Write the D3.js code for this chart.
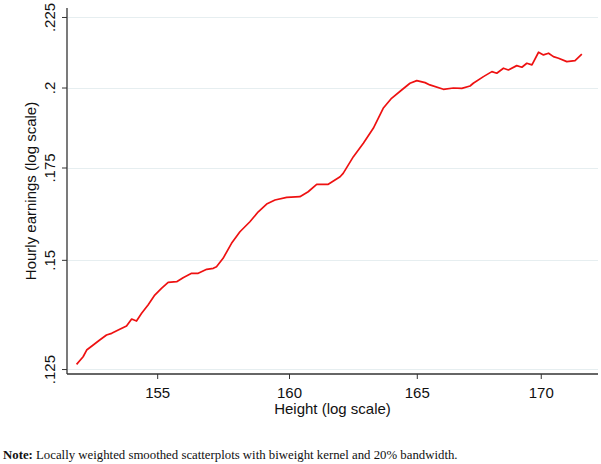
<!DOCTYPE html>
<html>
<head>
<meta charset="utf-8">
<script src="https://cdn.jsdelivr.net/npm/d3@7"></script>
<style>
    body { margin: 0; background: #fff; }
    svg { display: block; }
</style>
</head>
<body>
<div id="chart"></div>
<script>
// height (cm) and hourly earnings
var height = [152.02, 152.26, 152.39, 152.63, 152.87, 153.12, 153.31, 153.61, 153.86, 154.05,
    154.23, 154.42, 154.66, 154.91, 155.16, 155.41, 155.73, 155.97, 156.29, 156.54,
    156.86, 157.11, 157.23, 157.48, 157.80, 158.12, 158.50, 158.82, 159.14, 159.46,
    159.91, 160.42, 160.74, 161.07, 161.52, 161.98, 162.10, 162.50, 162.89, 163.28,
    163.67, 164.00, 164.40, 164.73, 165.00, 165.33, 165.52, 166.06, 166.46, 166.80,
    167.13, 167.26, 167.67, 168.01, 168.21, 168.48, 168.68, 169.02, 169.23, 169.43,
    169.64, 169.91, 170.11, 170.32, 170.52, 170.73, 171.07, 171.41, 171.69];
var earnings = [0.12598, 0.12759, 0.12903, 0.13011, 0.13120, 0.13230, 0.13268, 0.13357, 0.13431, 0.13589,
    0.13543, 0.13719, 0.13910, 0.14144, 0.14304, 0.14448, 0.14462, 0.14559, 0.14666, 0.14666,
    0.14764, 0.14789, 0.14829, 0.15038, 0.15419, 0.15720, 0.15985, 0.16254, 0.16465, 0.16575,
    0.16650, 0.16667, 0.16806, 0.17016, 0.17016, 0.17233, 0.17331, 0.17820, 0.18222, 0.18684,
    0.19318, 0.19644, 0.19918, 0.20143, 0.20231, 0.20164, 0.20087, 0.19941, 0.19984, 0.19974,
    0.20051, 0.20143, 0.20367, 0.20538, 0.20483, 0.20655, 0.20596, 0.20745, 0.20689, 0.20828,
    0.20769, 0.21214, 0.21119, 0.21179, 0.21059, 0.21003, 0.20884, 0.20918, 0.21144];

var xTicks = [155, 160, 165, 170];
var yTicks = [0.125, 0.15, 0.175, 0.2, 0.225];
var yTickLabels = [".125", ".15", ".175", ".2", ".225"];

var W = 601, H = 464;
var plotLeft = 67, plotRight = 598, plotTop = 8, plotBottom = 374;

var svg = d3.select("#chart").append("svg")
    .attr("width", W)
    .attr("height", H);

var x = d3.scaleLog()
    .domain([151.67, 172.36])
    .range([plotLeft, plotRight]);

var y = d3.scaleLog()
    .domain([0.12397, 0.2284])
    .range([plotBottom, plotTop]);

// gridlines
svg.append("g")
    .selectAll("line")
    .data(yTicks)
    .enter().append("line")
    .attr("x1", plotLeft + 1)
    .attr("x2", plotRight)
    .attr("y1", function (d) { return Math.round(y(d)) + 0.5; })
    .attr("y2", function (d) { return Math.round(y(d)) + 0.5; })
    .attr("stroke", "#e6eef0")
    .attr("stroke-width", 1.2);

var font = "'Liberation Sans', Arial, sans-serif";

// y axis
var yAxis = svg.append("g")
    .attr("transform", "translate(" + plotLeft + ",0)")
    .call(d3.axisLeft(y).tickValues(yTicks).tickSize(5).tickSizeOuter(0)
        .tickFormat(function (d, i) { return yTickLabels[i]; }));
yAxis.select(".domain").attr("stroke", "#333").attr("stroke-width", 1.3)
    .attr("d", "M0," + plotTop + "V" + plotBottom);
yAxis.selectAll(".tick line").attr("stroke", "#333");
yAxis.selectAll(".tick text")
    .attr("x", 0).attr("dy", 0)
    .attr("transform", "translate(-12,0) rotate(-90)")
    .attr("text-anchor", "middle")
    .style("font-family", font)
    .style("font-size", "15px")
    .attr("fill", "#111");

// x axis
var xAxis = svg.append("g")
    .attr("transform", "translate(0," + plotBottom + ")")
    .call(d3.axisBottom(x).tickValues(xTicks).tickSize(5).tickSizeOuter(0)
        .tickFormat(d3.format("d")));
xAxis.select(".domain").attr("stroke", "#333").attr("stroke-width", 1.3)
    .attr("d", "M" + plotLeft + ",0H" + plotRight);
xAxis.selectAll(".tick line").attr("stroke", "#333");
xAxis.selectAll(".tick text")
    .attr("y", 24).attr("dy", 0)
    .style("font-family", font)
    .style("font-size", "15px")
    .attr("fill", "#111");

// axis titles
svg.append("text")
    .attr("transform", "translate(36," + ((plotTop + plotBottom) / 2) + ") rotate(-90)")
    .attr("text-anchor", "middle")
    .style("font-family", font)
    .style("font-size", "15px")
    .attr("fill", "#111")
    .text("Hourly earnings (log scale)");

svg.append("text")
    .attr("x", (plotLeft + plotRight) / 2)
    .attr("y", 414)
    .attr("text-anchor", "middle")
    .style("font-family", font)
    .style("font-size", "15px")
    .attr("fill", "#111")
    .text("Height (log scale)");

// the curve
var pts = height.map(function (h, i) { return [h, earnings[i]]; });
var line = d3.line()
    .x(function (d) { return x(d[0]); })
    .y(function (d) { return y(d[1]); })
    .curve(d3.curveLinear);

svg.append("path")
    .datum(pts)
    .attr("d", line)
    .attr("fill", "none")
    .attr("stroke", "#ee1111")
    .attr("stroke-width", 1.7)
    .attr("stroke-linejoin", "round");

// note
var note = svg.append("text")
    .attr("x", 3)
    .attr("y", 459)
    .style("font-family", "'Liberation Serif', 'Times New Roman', serif")
    .style("font-size", "12.8px")
    .attr("fill", "#111");
note.append("tspan").attr("font-weight", "bold").text("Note:");
note.append("tspan").text(" Locally weighted smoothed scatterplots with biweight kernel and 20% bandwidth.");
</script>
</body>
</html>
